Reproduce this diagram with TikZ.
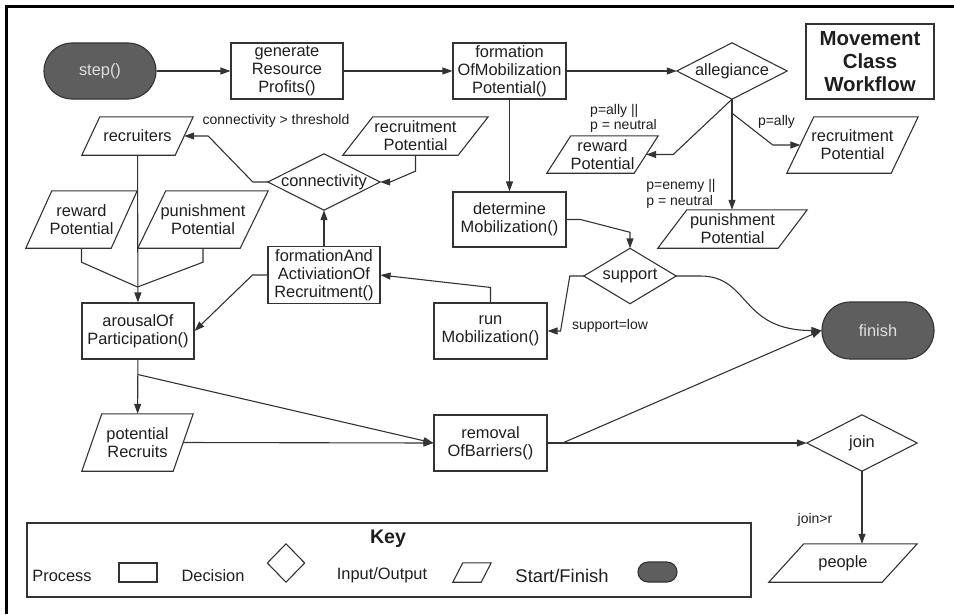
\documentclass[tikz,border=0pt]{standalone}
\usepackage{fontspec}
\setmainfont{Liberation Sans}
\usetikzlibrary{arrows.meta}
\definecolor{ln}{HTML}{333333}
\definecolor{txt}{HTML}{1E1E1E}
\definecolor{termfill}{HTML}{5E5E5E}
\definecolor{termtext}{HTML}{E0E0E0}
\newcommand\mydiamond[1]{\draw[shp] (#1.north) -- (#1.east) -- (#1.south) -- (#1.west) -- cycle;}
\newcommand\myio[2]{\draw[shp] ([xshift=#2]#1.north west) -- (#1.north east) -- ([xshift=-#2]#1.south east) -- (#1.south west) -- cycle;}
\begin{document}
\begin{tikzpicture}[x=1pt,y=-1pt,
 shp/.style={draw=ln, line width=1.1pt, line join=miter},
 base/.style={align=center, inner sep=0pt, text=txt, font=\fontsize{16.4}{18}\selectfont},
 proc/.style={base, draw=ln, line width=1.1pt, minimum width=112pt, minimum height=56pt},
 term/.style={base, draw=ln, line width=1.1pt, fill=termfill, text=termtext, rounded corners=28pt, minimum width=112pt, minimum height=56pt},
 dec/.style={base, minimum width=110pt, minimum height=56pt},
 io/.style={base},
 lab/.style={align=left, inner sep=0pt, text=txt, font=\fontsize{14}{15.5}\selectfont},
 arr/.style={draw=ln, line width=1.1pt, -{Triangle[length=10pt,width=7pt]}},
 con/.style={draw=ln, line width=1.1pt}
]
\useasboundingbox (0,0) rectangle (954,614);
\draw[line width=3pt, black] (6,614) -- (6,6.5) -- (954,6.5);

% nodes
\node[term] (step) at (100,71) {step()};
\node[proc] (gen) at (287,71) {generate\\Resource\\Profits()};
\node[proc, minimum width=113pt] (formMob) at (509.5,71) {formation\\OfMobilization\\Potential()};
\node[dec] (alleg) at (732,71) {allegiance}; \mydiamond{alleg}
\node[base, draw=ln, line width=1.1pt, minimum width=128pt, minimum height=75pt, font=\bfseries\fontsize{20.4}{23}\selectfont] (title) at (870,61.5) {Movement\\Class\\Workflow};

\node[io, minimum width=111pt, minimum height=38pt] (recruiters) at (137.5,136) {recruiters}; \myio{recruiters}{18pt}
\node[io, minimum width=145pt, minimum height=38pt] (recPotL) at (415.5,136) {recruitment\\Potential}; \myio{recPotL}{30pt}
\node[io, minimum width=111pt, minimum height=57pt] (rewardL) at (81.5,219.5) {reward\\Potential}; \myio{rewardL}{26pt}
\node[io, minimum width=130pt, minimum height=57pt] (punishL) at (203,219.5) {punishment\\Potential}; \myio{punishL}{28pt}
\node[io, minimum width=111pt, minimum height=37pt] (rewardR) at (602.5,154.5) {reward\\Potential}; \myio{rewardR}{24pt}
\node[io, minimum width=131pt, minimum height=56pt] (recPotR) at (852.5,145) {recruitment\\Potential}; \myio{recPotR}{27pt}
\node[io, minimum width=149pt, minimum height=38pt] (punishR) at (732.5,229) {punishment\\Potential}; \myio{punishR}{29pt}
\node[io, minimum width=111pt, minimum height=57pt] (potRec) at (137.5,442.5) {potential\\Recruits}; \myio{potRec}{20pt}
\node[io, minimum width=148pt, minimum height=38pt] (people) at (843,563) {people}; \myio{people}{35pt}

\node[dec, minimum width=112pt] (conn) at (324,182) {connectivity}; \mydiamond{conn}
\node[dec, minimum width=92pt, minimum height=55pt] (support) at (630,276) {support}; \mydiamond{support}
\node[dec] (join) at (862,443) {join}; \mydiamond{join}

\node[proc, minimum height=57pt] (formAnd) at (324,275) {formationAnd\\ActiviationOf\\Recruitment()};
\node[proc, minimum width=113pt, minimum height=55pt] (detMob) at (509.5,219.5) {determine\\Mobilization()};
\node[proc, minimum width=113pt] (runMob) at (490.5,331) {run\\Mobilization()};
\node[proc] (arousal) at (138,331) {arousalOf\\Participation()};
\node[proc, minimum width=113pt] (removal) at (490.5,443) {removal\\OfBarriers()};
\node[term, minimum height=57pt] (finish) at (878,330.5) {finish};

% labels
\node[lab] (lb1) at (623.5,118.5) {p=ally ||\\p = neutral};
\node[lab] (lb2) at (776.5,122) {p=ally};
\node[lab] (lb3) at (681,194) {p=enemy ||\\p = neutral};
\node[lab] (lb4) at (276,121) {connectivity > threshold};
\node[lab] (lb5) at (610,326) {support=low};
\node[lab] (lb6) at (815,520) {join>r};

% connectors
\draw[arr] (step) -- (gen);
\draw[arr] (gen) -- (formMob);
\draw[arr] (formMob) -- (alleg);
\draw[arr] (formMob) -- (detMob);
\draw[arr] (alleg.south) -- ([xshift=15pt]rewardR.east) -- ([xshift=-12pt]rewardR.east);
\draw[arr] (alleg.south) ++(0,14) -- ([xshift=-14pt]recPotR.west) -- ([xshift=13.5pt]recPotR.west);
\draw[arr] (alleg.south) -- (alleg.south |- punishR.north);
\draw[arr] (detMob.east) -- ++(14,0) -- ([yshift=16pt]support.north) -- (support.north);
\draw[arr] (support.east) -- ++(24,0) .. controls +(50,0) and +(-82,0) .. (finish.west);
\draw[arr] (support.west) -- ++(-14,0) -- ([xshift=13pt]runMob.east) -- (runMob.east);
\draw[arr] (runMob.north) -- ++(0,-15) -- (formAnd.east);
\draw[arr] (formAnd) -- (conn);
\draw[arr] (recPotL.south) -- ++(0,16) -- ([xshift=10pt]conn.east) -- (conn.east);
\draw[arr] (conn.west) -- ++(-15,0) -- ([xshift=15pt]recruiters.east) -- ([xshift=-9pt]recruiters.east);
\draw[arr] (recruiters) -- (arousal);
\coordinate (mrg) at (137.5,287);
\draw[con] (rewardL.south) -- ++(0,14) -- (mrg);
\draw[con] (punishL.south) -- ++(0,14) -- (mrg);
\draw[arr] (formAnd.west) -- ++(-15,0) -- (arousal.east);
\draw[arr] (arousal) -- (potRec);
\draw[arr] (arousal.south) ++(0,15) -- (removal.west);
\draw[arr] ([xshift=-10pt]potRec.east) -- (removal.west);
\draw[arr] (removal.east) ++(15,0) -- (finish.west);
\draw[arr] (removal) -- (join);
\draw[arr] (join.south) -- (join.south |- people.north);

% key
\node[base, draw=ln, line width=1.1pt, minimum width=724pt, minimum height=74pt] (keybox) at (389,560) {};
\node[base, font=\bfseries\fontsize{19.6}{22}\selectfont] (keyt) at (388,538.5) {Key};
\node[base] (kproc) at (62,575.5) {Process};
\node[draw=ln, line width=1.1pt, minimum width=38pt, minimum height=19pt, inner sep=0pt] (kprocs) at (138,572.5) {};
\node[base] (kdec) at (213,575.5) {Decision};
\node[dec, minimum width=37pt, minimum height=38pt] (kdecs) at (286,563) {}; \mydiamond{kdecs}
\node[base] (kio) at (382,575.5) {Input/Output};
\node[io, minimum width=38pt, minimum height=19pt] (kios) at (472,572.5) {}; \myio{kios}{10pt}
\node[base, font=\fontsize{18.4}{20}\selectfont] (kterm) at (562,576) {Start/Finish};
\node[term, minimum width=39pt, minimum height=20pt, rounded corners=10pt] (kterms) at (657.5,572) {};
\end{tikzpicture}
\end{document}
